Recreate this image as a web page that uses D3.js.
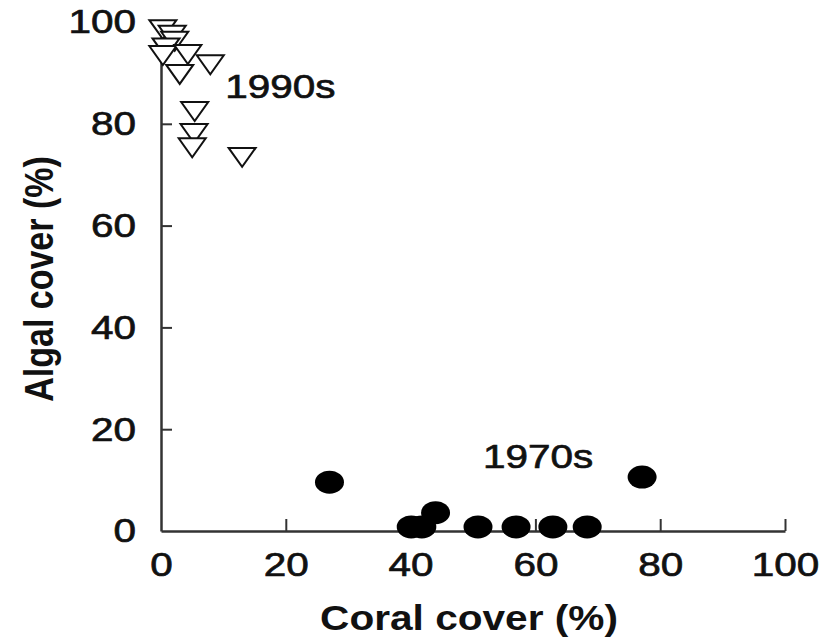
<!DOCTYPE html>
<html>
<head>
<meta charset="utf-8">
<script src="https://cdn.jsdelivr.net/npm/d3@7"></script>
<style>
  html, body { margin: 0; padding: 0; background: #fff; }
  svg { display: block; }
  text { font-family: "Liberation Sans", Arial, Helvetica, sans-serif; fill: #111; }
</style>
</head>
<body>
<svg id="chart" width="827" height="640"></svg>
<script>
// ---- data ----
const coralTicks = [0, 20, 40, 60, 80, 100];
const algalTicks = [0, 20, 40, 60, 80, 100];

const coral1970s = [27, 40.1, 41.8, 44, 50.8, 56.9, 62.8, 68.3, 77.1];
const algal1970s = [9.6, 0.8, 0.8, 3.6, 0.8, 0.8, 0.8, 0.8, 10.6];

const coral1990s = [0.3, 1.8, 2.2, 0.8, 0.3, 4.3, 3.0, 7.9, 5.4, 5.3, 5.0, 13.0];
const algal1990s = [98.6, 97.5, 96.3, 95.0, 93.5, 93.7, 89.8, 91.7, 82.5, 78.2, 75.4, 73.5];

const groupLabels = ["1990s", "1970s"];
const groupLabelCoral = [10.3, 51.6];
const groupLabelAlgal = [85, 12.4];

const xTitle = "Coral cover (%)";
const yTitle = "Algal cover (%)";

// ---- layout ----
const svg = d3.select("#chart");
const x = d3.scaleLinear().domain([0, 100]).range([161, 785]);
const y = d3.scaleLinear().domain([0, 100]).range([531, 22]);
const SX = 1.19; // horizontal stretch of the scanned figure

function stretch(sel, f) {
  sel.each(function () {
    const L = this.getComputedTextLength();
    d3.select(this).attr("textLength", L * f).attr("lengthAdjust", "spacingAndGlyphs");
  });
}

// y axis
const gy = svg.append("g").attr("transform", `translate(${x(0)},0)`)
  .call(d3.axisLeft(y).tickValues(algalTicks).tickFormat(d3.format("d"))
    .tickSizeInner(-11).tickSizeOuter(0).tickPadding(20));
// x axis
const gx = svg.append("g").attr("transform", `translate(0,${y(0)})`)
  .call(d3.axisBottom(x).tickValues(coralTicks).tickFormat(d3.format("d"))
    .tickSizeInner(-12).tickSizeOuter(0).tickPadding(21));

[gx, gy].forEach(g => {
  g.select(".domain").attr("stroke", "#333").attr("stroke-width", 2.5);
  g.selectAll(".tick line").attr("stroke", "#333").attr("stroke-width", 2)
    .filter(d => d === 0).remove();
  g.selectAll(".tick text").attr("font-size", 34).attr("fill", "#111")
    .attr("stroke", "#111").attr("stroke-width", 0.7)
    .style("font-family", '"Liberation Sans", Arial, sans-serif');
  g.attr("font-family", null).attr("font-size", null);
  stretch(g.selectAll(".tick text"), SX);
});
gy.selectAll(".tick text").attr("x", -25);

// axis titles
svg.append("text")
  .attr("x", 469).attr("y", 630)
  .attr("text-anchor", "middle")
  .attr("font-size", 35).attr("font-weight", "bold")
  .text(xTitle)
  .call(s => stretch(s, 1.16));

svg.append("text")
  .attr("transform", `translate(53,279) scale(${SX},1) rotate(-90)`)
  .attr("text-anchor", "middle")
  .attr("font-size", 34).attr("font-weight", "bold")
  .text(yTitle);

// 1970s filled markers
svg.append("g").selectAll("ellipse")
  .data(coral1970s.map((c, i) => ({ c, a: algal1970s[i] })))
  .join("ellipse")
  .attr("cx", d => x(d.c)).attr("cy", d => y(d.a))
  .attr("rx", 14.5).attr("ry", 11.5)
  .attr("fill", "#000");

// 1990s open downward triangles
svg.append("g").selectAll("path")
  .data(coral1990s.map((c, i) => ({ c, a: algal1990s[i] })))
  .join("path")
  .attr("transform", d => `translate(${x(d.c)},${y(d.a)})`)
  .attr("d", "M-13.5,-9L13.5,-9L0,10Z")
  .attr("fill", "#fff").attr("stroke", "#111").attr("stroke-width", 2)
  .attr("stroke-linejoin", "miter");

// group labels
svg.append("g").selectAll("text")
  .data(groupLabels.map((t, i) => ({ t, c: groupLabelCoral[i], a: groupLabelAlgal[i] })))
  .join("text")
  .attr("x", d => x(d.c)).attr("y", d => y(d.a))
  .attr("font-size", 34)
  .attr("stroke", "#111").attr("stroke-width", 0.7)
  .text(d => d.t)
  .call(s => stretch(s, SX));
</script>
</body>
</html>
